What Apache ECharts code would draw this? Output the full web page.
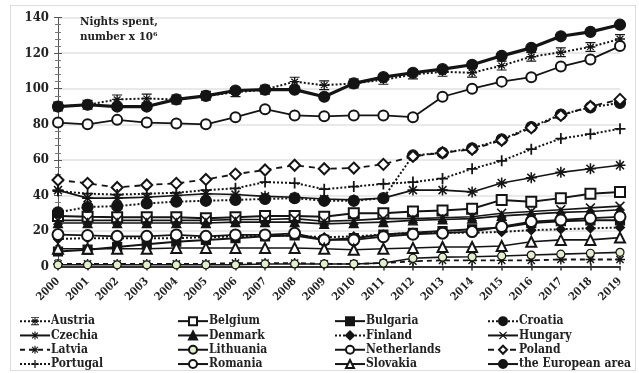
<!DOCTYPE html>
<html>
<head>
<meta charset="utf-8">
<script src="https://cdn.jsdelivr.net/npm/echarts@6/dist/echarts.min.js"></script>
<style>
  html, body { margin: 0; padding: 0; background: #fff; }
  #chart { width: 639px; height: 373px; }
  .frame { position: absolute; left: 10px; top: 5px; width: 624px; height: 364px; border: 1px solid #ddd; pointer-events: none; }
</style>
</head>
<body>
<div id="chart"></div>
<div class="frame"></div>
<script>
// Nights spent in tourist accommodation, millions, 2000-2019
const years = ['2000','2001','2002','2003','2004','2005','2006','2007','2008','2009',
               '2010','2011','2012','2013','2014','2015','2016','2017','2018','2019'];

const austria     = [90, 91, 94, 94.5, 94, 96, 98, 99.5, 104, 102, 103, 105, 108, 109.5, 109, 113, 118, 120.5, 123.5, 128];
const belgium     = [28.5, 28, 27.7, 27.7, 27.7, 27.2, 27.7, 28.5, 28.5, 28, 30, 30, 31, 31.5, 32.5, 37.5, 36.5, 38.5, 41, 42];
const bulgaria    = [8.5, 9.5, 11, 12.5, 14, 15, 16, 17, 17.5, 15, 16, 18, 19, 20, 21, 22, 24.5, 25.5, 26, 26];
const croatia     = [30.5, 33.5, 34, 35.5, 36.5, 37, 37.5, 38, 38.5, 37, 37, 38.5, 62.5, 64, 66.5, 71.5, 78.5, 85.5, 89.5, 92];
const czechia     = [43, 38.5, 38.5, 39, 40, 41, 40.5, 39.5, 39, 38, 37.5, 38.5, 43, 43, 42, 47, 50, 53, 55, 57];
const denmark     = [24.5, 24.5, 24.5, 24.5, 24.5, 24.5, 25, 25, 25, 24, 24.5, 25, 26, 26.5, 27, 28.5, 29.5, 30.5, 31, 32];
const finland     = [15.5, 16, 16, 16, 16, 16.5, 17, 17.5, 17.5, 16.5, 17, 18, 19, 19, 19, 19.5, 20.5, 21, 21.5, 22];
const hungary     = [26, 26, 26, 26, 26, 26, 26.5, 26.5, 27, 25.5, 26, 27, 27, 27.5, 28, 30, 31, 32, 33, 34];
const latvia      = [1.5, 1.5, 1.5, 1.5, 1.5, 1.5, 2, 2, 2, 1.5, 1.5, 2, 3, 3.5, 3.5, 3.5, 3.5, 4, 4, 4];
const lithuania   = [1, 1, 1, 1, 1, 1, 1, 1.5, 1.5, 1.5, 1.5, 2, 4.7, 5.3, 5.5, 6, 6.5, 7, 7.5, 8];
const netherlands = [81, 80, 82.5, 81, 80.5, 80, 84, 88.5, 85, 84.5, 85, 85, 84, 95.5, 100, 104, 106.5, 112.5, 116.5, 124];
const poland      = [48.7, 46.8, 44.5, 45.9, 46.8, 49, 52, 54.3, 57, 55, 55.4, 57.5, 62, 64, 66, 71, 78, 85, 90, 94];
const portugal    = [42.5, 41, 40.5, 41, 41.5, 43, 44, 47.5, 47, 43.5, 45, 46.5, 47.5, 49.5, 55, 59.5, 66, 72, 74.5, 77.5];
const romania     = [18, 17.5, 17, 17, 17.8, 17, 17.8, 17.8, 18.7, 15, 15, 16.8, 18.2, 18.8, 19.7, 22.5, 25.3, 26.2, 27.2, 28];
const slovakia    = [10, 10, 10, 10, 10.5, 10.5, 10.5, 10.5, 10.5, 10, 9.5, 10, 10.5, 11, 11, 11.6, 14, 15, 15, 16.3];
const euroArea    = [90, 91, 90, 90, 94, 96, 99, 99.5, 99.5, 95.5, 103, 106.5, 109, 111, 113.5, 118.5, 123, 129.5, 132, 136];

const yTicks = [0, 20, 40, 60, 80, 100, 120, 140];

const INK = '#141414';
const FONT = "'DejaVu Serif Condensed', 'DejaVu Serif', serif";

// marker shapes
const PLUS = 'path://M4.2,0H5.8V4.2H10V5.8H5.8V10H4.2V5.8H0V4.2H4.2Z';
const CROSS = 'path://M1.1,0L5,3.9L8.9,0L10,1.1L6.1,5L10,8.9L8.9,10L5,6.1L1.1,10L0,8.9L3.9,5L0,1.1Z';
const STAR = 'path://M4.3,0H5.7V3.3L8.1,0.9L9.1,1.9L6.7,4.3H10V5.7H6.7L9.1,8.1L8.1,9.1L5.7,6.7V10H4.3V6.7L1.9,9.1L0.9,8.1L3.3,5.7H0V4.3H3.3L0.9,1.9L1.9,0.9L4.3,3.3Z';
const STARBAR = 'path://M0,0H10V1.2H0Z M0,8.8H10V10H0Z M4.3,1H5.7V3.6L7.9,1.6L8.8,2.5L6.6,4.3H10V5.7H6.6L8.8,7.5L7.9,8.4L5.7,6.4V9H4.3V6.4L2.1,8.4L1.2,7.5L3.4,5.7H0V4.3H3.4L1.2,2.5L2.1,1.6L4.3,3.6Z';

function mk(name, data, opt) {
  const bw = opt.symbol.indexOf('path://') === 0 ? 0 : 1.2;
  return {
    name: name,
    type: 'line',
    data: data,
    symbol: opt.symbol,
    symbolSize: opt.size || 8,
    showAllSymbol: true,
    z: opt.z || 2,
    lineStyle: { color: INK, width: opt.width || 1.6, type: opt.line || 'solid' },
    itemStyle: Object.assign({ color: INK, borderColor: INK, borderWidth: bw }, opt.item || {}),
    emphasis: { disabled: true },
    animation: false
  };
}

const series = [
  mk('Austria', austria, { symbol: STARBAR, size: 10, line: 'dotted', width: 2 }),
  mk('Belgium', belgium, { symbol: 'emptyRect', size: 10, width: 2 }),
  mk('Bulgaria', bulgaria, { symbol: 'rect', size: 9, width: 2 }),
  mk('Croatia', croatia, { symbol: 'circle', size: 11, line: 'dotted', width: 2 }),
  mk('Czechia', czechia, { symbol: STAR, size: 11, width: 1.6 }),
  mk('Denmark', denmark, { symbol: 'triangle', size: 9, width: 1.6 }),
  mk('Finland', finland, { symbol: 'diamond', size: 9, line: 'dotted', width: 2 }),
  mk('Hungary', hungary, { symbol: CROSS, size: 10, width: 1.6 }),
  mk('Latvia', latvia, { symbol: STAR, size: 10, line: [5, 4], width: 1.8 }),
  mk('Lithuania', lithuania, { symbol: 'circle', size: 8, width: 1.6, item: { color: '#e4f0cc', borderColor: INK, borderWidth: 1.2 } }),
  mk('Netherlands', netherlands, { symbol: 'emptyCircle', size: 10, width: 1.8 }),
  mk('Poland', poland, { symbol: 'emptyDiamond', size: 11, line: [6, 5], width: 1.8 }),
  mk('Portugal', portugal, { symbol: PLUS, size: 11, line: 'dotted', width: 2 }),
  mk('Romania', romania, { symbol: 'emptyCircle', size: 11, width: 1.8 }),
  mk('Slovakia', slovakia, { symbol: 'emptyTriangle', size: 10, width: 1.6 }),
  mk('the European area', euroArea, { symbol: 'circle', size: 11, width: 3.2, z: 5 })
];

const names = series.map(s => s.name);
// four legend columns, filled row by row
const cols = [0, 1, 2, 3].map(c => names.filter((n, i) => i % 4 === c));
const colLeft = [19, 177, 334, 487];

const legends = cols.map((list, c) => ({
  data: list,
  orient: 'vertical',
  left: colLeft[c],
  top: 314,
  bottom: 0,
  padding: 0,
  itemWidth: 30,
  itemHeight: 10,
  itemGap: 0,
  selectedMode: false,
  textStyle: { fontFamily: FONT, fontWeight: 'bold', fontSize: 12, lineHeight: 14.3, color: '#222', padding: [0, 0, 0, -4] }
}));

const chart = echarts.init(document.getElementById('chart'), null, { renderer: 'canvas' });
chart.setOption({
  backgroundColor: '#fff',
  animation: false,
  grid: { left: 58, right: 19, top: 17.6, height: 249 },
  title: {
    text: 'Nights spent,\nnumber x 10⁶',
    left: 75, top: 10,
    textStyle: { fontFamily: FONT, fontWeight: 'bold', fontSize: 11.5, color: '#222', lineHeight: 15 }
  },
  legend: legends,
  xAxis: [{
    type: 'category',
    data: years,
    boundaryGap: false,
    axisLine: { lineStyle: { color: '#333', width: 2 } },
    axisTick: { show: true, length: 4, lineStyle: { color: '#333', width: 1.5 } },
    axisLabel: { rotate: 45, fontFamily: FONT, fontWeight: 'bold', fontSize: 11, color: '#222', margin: 13 },
    splitLine: { show: false }
  }, {
    // tick marks on the inner side of the year axis
    type: 'category',
    data: years,
    boundaryGap: false,
    position: 'bottom',
    axisLine: { show: false },
    axisTick: { show: true, inside: true, length: 3, lineStyle: { color: '#333', width: 1.5 } },
    axisLabel: { show: false },
    splitLine: { show: false }
  }],
  yAxis: [{
    type: 'value',
    min: 0, max: 140, interval: 20,
    axisLine: { show: true, lineStyle: { color: '#555', width: 1 } },
    axisTick: { show: true, length: 4, lineStyle: { color: '#555' } },
    minorTick: { show: true, splitNumber: 5, length: 3, lineStyle: { color: '#777' } },
    axisLabel: {
      fontFamily: FONT, fontWeight: 'bold', fontSize: 13, color: '#222', margin: 9,
      formatter: v => yTicks.includes(v) ? String(v) : ''
    },
    splitLine: { show: true, lineStyle: { color: '#e2e2e2', width: 1.5 } }
  }, {
    type: 'value',
    min: 0, max: 140, interval: 20,
    position: 'left',
    axisLine: { show: false },
    axisTick: { show: true, inside: true, length: 4, lineStyle: { color: '#555' } },
    minorTick: { show: true, splitNumber: 5, length: 3, lineStyle: { color: '#777' } },
    axisLabel: { show: false },
    splitLine: { show: false }
  }],
  series: series
});
</script>
</body>
</html>
